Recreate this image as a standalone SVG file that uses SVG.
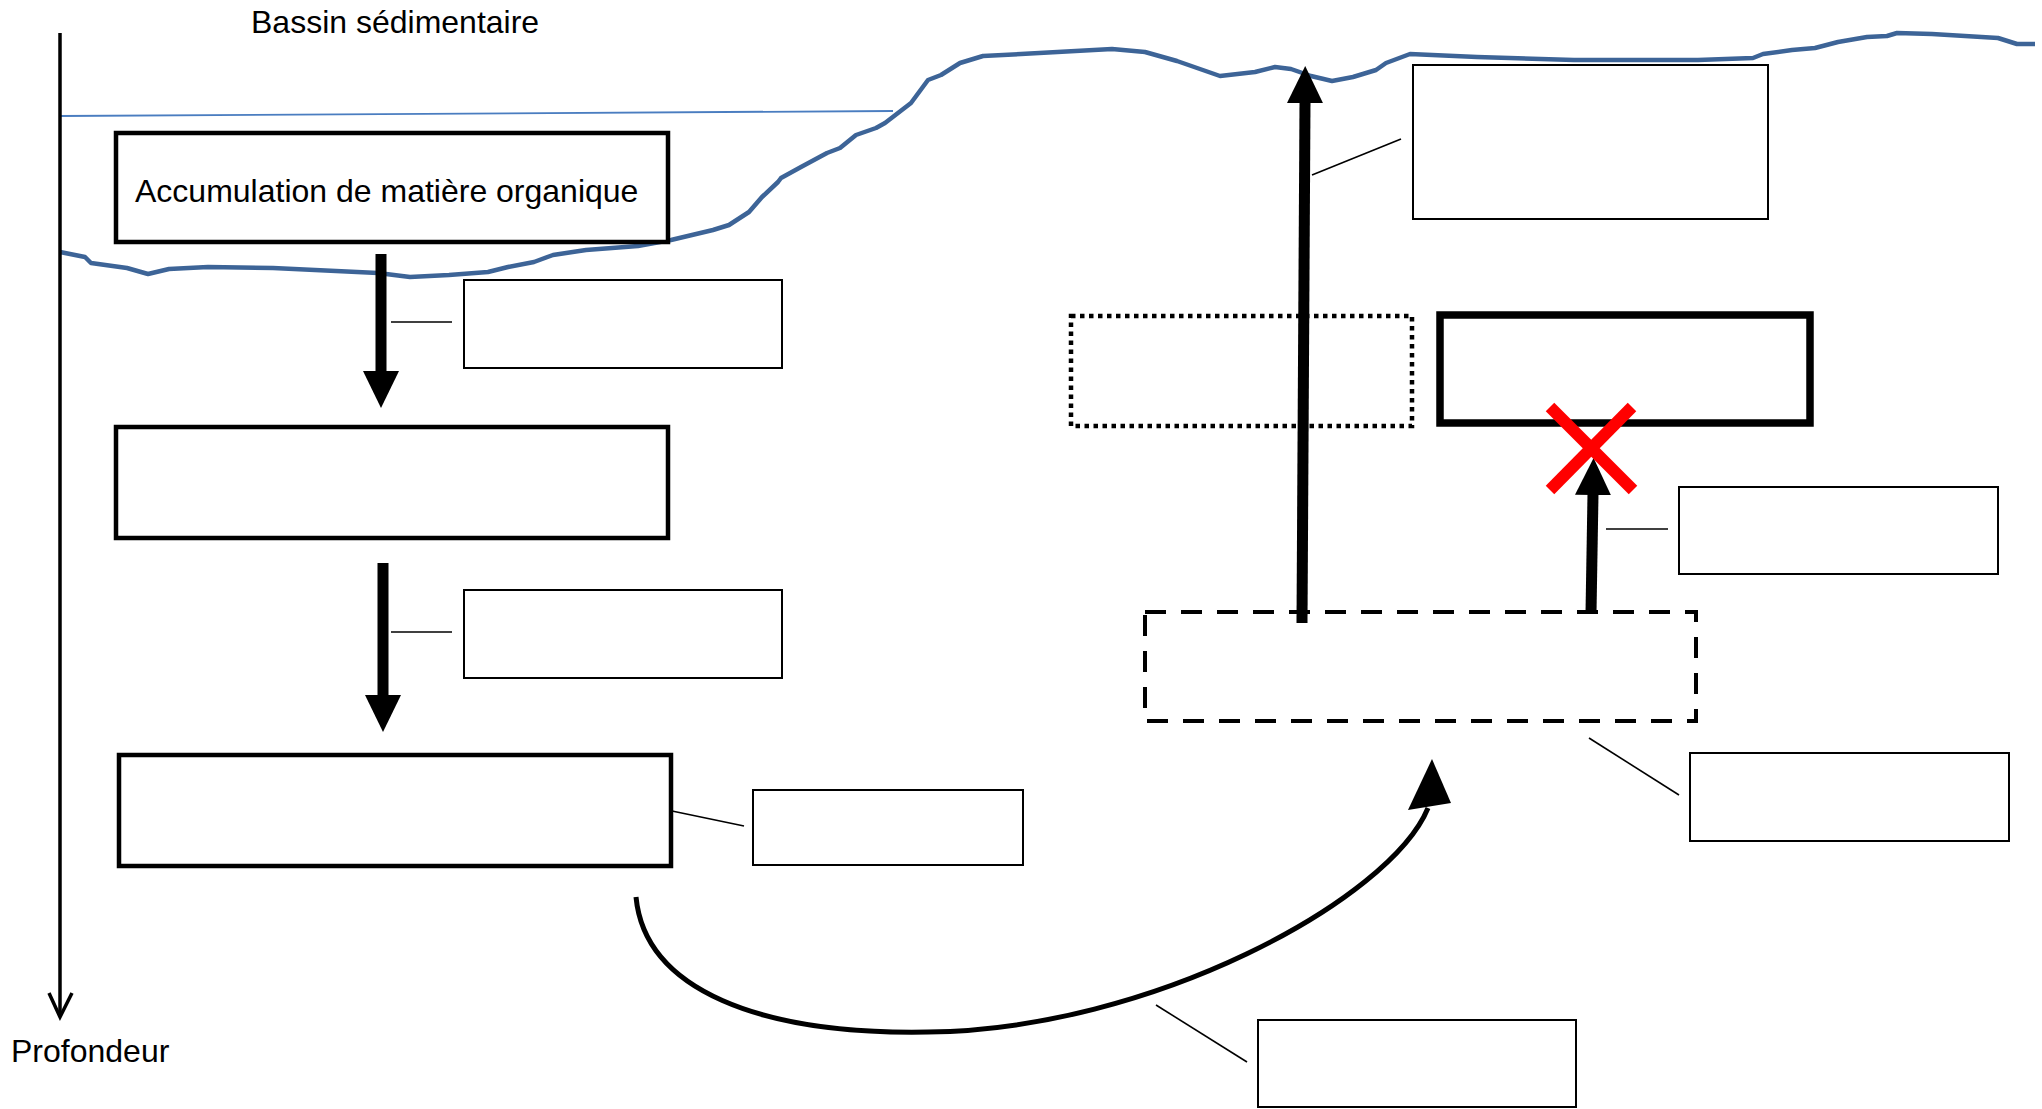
<svg xmlns="http://www.w3.org/2000/svg" width="2042" height="1109" viewBox="0 0 2042 1109">
<style>
.bg{fill:#ffffff}
.txt{font-family:"Liberation Sans",Arial,sans-serif;font-size:32px;fill:#000000}
.main{fill:#ffffff;stroke:#000000;stroke-width:4.5}
.label{fill:#ffffff;stroke:#000000;stroke-width:2}
.thick{fill:#ffffff;stroke:#000000;stroke-width:7.5}
.dotted{fill:none;stroke:#000000;stroke-width:4.5;stroke-dasharray:4.5 4.5}
.dashed{fill:none;stroke:#000000;stroke-width:4;stroke-dasharray:21 15}
.arrow{fill:none;stroke:#000000;stroke-width:11;stroke-linecap:butt}
.thin{fill:none;stroke:#000000;stroke-width:1.6}
.axis{fill:none;stroke:#000000;stroke-width:3.5}
.floor{fill:none;stroke:#3d6497;stroke-width:4.5;stroke-linejoin:round}
.water{fill:none;stroke:#4a7dc0;stroke-width:1.8}
.cross{fill:none;stroke:#ff0000;stroke-width:12;stroke-linecap:butt}
</style>
<defs>
<marker id="head" markerUnits="userSpaceOnUse" markerWidth="37" markerHeight="36" viewBox="0 0 37 36" refX="1" refY="18" orient="auto">
<path d="M0,0 L37,18 L0,36 Z" fill="#000000"/>
</marker>
</defs>
<rect class="bg" x="0" y="0" width="2042" height="1109"/>

<g id="basin">
<polyline class="water" points="60,116 893,111"/>
<polyline class="floor" points="60,252 85,257 91,263 127,268 148,274 169,269 208,267 273,268 378,273 410,277 449,275 488,272 508,267 534,262 553,255 586,250 638,246 671,240 713,230 729,225 749,212 762,197 778,182 781,178 801,167 827,153 840,148 856,135 876,128 885,123 911,103 928,80 941,75 960,63 983,56 1021,54 1112,49 1145,52 1177,61 1220,76 1255,72 1275,67 1291,69 1311,76 1332,81 1353,77 1376,70 1386,63 1410,54 1477,57 1574,60 1698,60 1753,58 1763,54 1792,50 1815,48 1838,42 1867,37 1887,36 1897,33 1932,34 1998,38 2017,44 2035,44"/>
<text class="txt" x="251" y="33">Bassin sédimentaire</text>
</g>

<g id="axis">
<line class="axis" x1="60" y1="33" x2="60" y2="1016"/>
<polyline class="axis" points="49,993 60,1017 72,993"/>
<text class="txt" x="11" y="1062">Profondeur</text>
</g>

<g id="node-accumulation">
<rect class="main" x="116" y="133" width="552" height="109"/>
<text class="txt" x="135" y="202">Accumulation de matière organique</text>
</g>
<g id="node-box2"><rect class="main" x="116" y="427" width="552" height="111"/></g>
<g id="node-box3"><rect class="main" x="119" y="755" width="552" height="111"/></g>
<g id="label-1"><rect class="label" x="464" y="280" width="318" height="88"/></g>
<g id="label-2"><rect class="label" x="464" y="590" width="318" height="88"/></g>
<g id="label-3"><rect class="label" x="753" y="790" width="270" height="75"/></g>
<g id="label-4"><rect class="label" x="1413" y="65" width="355" height="154"/></g>
<g id="label-5"><rect class="label" x="1679" y="487" width="319" height="87"/></g>
<g id="label-6"><rect class="label" x="1690" y="753" width="319" height="88"/></g>
<g id="label-7"><rect class="label" x="1258" y="1020" width="318" height="87"/></g>
<g id="node-dotted"><rect class="dotted" x="1071" y="316" width="341" height="110"/></g>
<g id="node-thick"><rect class="thick" x="1440" y="315" width="370" height="108"/></g>
<g id="node-dashed"><rect class="dashed" x="1145" y="612" width="551" height="109"/></g>

<g id="connectors">
<line class="arrow" x1="381" y1="254" x2="381" y2="372" marker-end="url(#head)"/>
<line class="arrow" x1="383" y1="563" x2="383" y2="696" marker-end="url(#head)"/>
<line class="arrow" x1="1302" y1="623" x2="1305" y2="102" marker-end="url(#head)"/>
<line class="arrow" x1="1591" y1="613" x2="1593" y2="494" marker-end="url(#head)"/>
<path d="M636,897 C645,990 760,1035 928,1032 C1150,1030 1390,900 1428,808" fill="none" stroke="#000000" stroke-width="5"/>
<polygon points="1432,759 1408,810 1451,803" fill="#000000"/>
<line class="thin" x1="391" y1="322" x2="452" y2="322"/>
<line class="thin" x1="391" y1="632" x2="452" y2="632"/>
<line class="thin" x1="672" y1="811" x2="744" y2="826"/>
<line class="thin" x1="1312" y1="175" x2="1401" y2="139"/>
<line class="thin" x1="1606" y1="529" x2="1668" y2="529"/>
<line class="thin" x1="1589" y1="738" x2="1679" y2="795"/>
<line class="thin" x1="1156" y1="1005" x2="1247" y2="1062"/>
</g>

<g id="cross">
<line class="cross" x1="1550" y1="407" x2="1633" y2="490"/>
<line class="cross" x1="1632" y1="407" x2="1550" y2="490"/>
</g>
</svg>
